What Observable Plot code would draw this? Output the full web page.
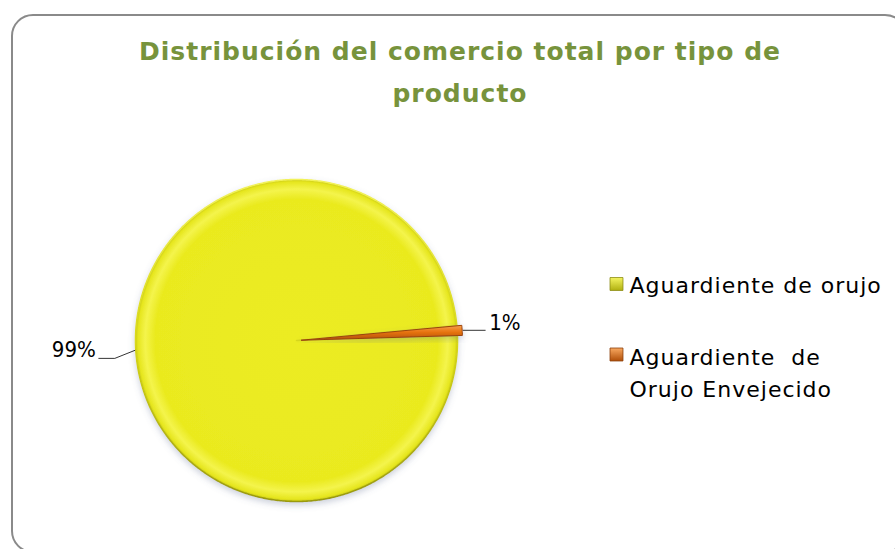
<!DOCTYPE html>
<html><head><meta charset="utf-8">
<script src="https://cdn.jsdelivr.net/npm/d3@7"></script>
<script src="https://cdn.jsdelivr.net/npm/@observablehq/plot@0.6"></script>
<style>
html,body{margin:0;padding:0;background:#fff;}
#wrap{position:relative;width:895px;height:549px;overflow:hidden;background:#fff;}
#frame{position:absolute;left:11px;top:14px;width:896px;height:539px;border:2px solid #8a8a8a;border-radius:22px;box-sizing:border-box;pointer-events:none;}
#title{position:absolute;left:11px;top:31px;width:898px;text-align:center;font-family:"DejaVu Sans",sans-serif;font-weight:bold;font-size:25px;letter-spacing:1px;line-height:42px;color:#77933C;margin:0;}
#chart{position:absolute;left:0;top:120px;}
</style>
</head><body>
<div id="wrap">
  <div id="title">Distribución del comercio total por tipo de<br>producto</div>
  <div id="chart"></div>
  <div id="frame"></div>
</div>
<script>
// ---- data ----
const categories = ["Aguardiente de orujo", "Aguardiente  de\nOrujo Envejecido"];
const shares = [99, 1];
const pctLabels = ["99%", "1%"];
const colors = ["#EBEB22", "#E46C0A"];

// ---- layout ----
const W = 895, H = 429, TOP = 120;
const cx = 296, cy = 340, R = 161;
const startDeg = 88.3;
const explode = [0, 5];
const FONT_LBL = '"DejaVu Sans Condensed","DejaVu Sans",sans-serif';
const FONT_LEG = '"DejaVu Sans",sans-serif';

const arcs = d3.pie().sort(null)
  .startAngle(startDeg * Math.PI / 180)
  .endAngle(startDeg * Math.PI / 180 + 2 * Math.PI)(shares);

// slice outlines from pie angles
const slices = arcs.map((a, i) => {
  const m = (a.startAngle + a.endAngle) / 2;
  const ox = explode[i] * Math.sin(m), oy = -explode[i] * Math.cos(m);
  const pts = [{x: cx + ox, y: cy + oy}];
  const n = Math.max(4, Math.ceil((a.endAngle - a.startAngle) / (Math.PI / 360)));
  for (let k = 0; k <= n; k++) {
    const t = a.startAngle + (a.endAngle - a.startAngle) * k / n;
    pts.push({x: cx + ox + R * Math.sin(t), y: cy + oy - R * Math.cos(t)});
  }
  pts.push({x: cx + ox, y: cy + oy});
  return pts;
});

// leader lines + label anchors
const leaders = arcs.map((a, i) => {
  const m = (a.startAngle + a.endAngle) / 2;
  const r = R + explode[i] + 1;
  const p0 = {x: cx + r * Math.sin(m), y: cy - r * Math.cos(m)};
  if (Math.sin(m) > 0) {
    return [p0, {x: p0.x + 22, y: p0.y}];
  } else {
    const p1 = {x: p0.x - 20, y: p0.y + 8};
    return [p0, p1, {x: p1.x - 16, y: p1.y}];
  }
});
const labelRows = leaders.map((pts, i) => {
  const end = pts[pts.length - 1];
  const right = end.x > cx;
  return {x: right ? end.x + 4 : end.x - 3, y: right ? end.y - 7 : end.y - 8, text: pctLabels[i], right};
});

const legendRows = categories.map((c, i) => ({
  name: c,
  sx: 616, sy: i === 0 ? 283.5 : 354,
  tx: 629, ty: i === 0 ? 282 : 370,
  color: colors[i]
}));

const defs = () => {
  const d = d3.create("svg:defs");
  const rg = d.append("radialGradient").attr("id", "gY").attr("gradientUnits", "userSpaceOnUse")
    .attr("cx", cx).attr("cy", cy - TOP).attr("r", R);
  [[0, "#ECEC24"], [0.88, "#EAEA1F"], [0.94, "#F4F44C"], [0.985, "#E6E61E"], [1, "#C9C916"]]
    .forEach(([o, c]) => rg.append("stop").attr("offset", o).attr("stop-color", c));
  const sg = d.append("linearGradient").attr("id", "gYs").attr("x1", 0).attr("y1", 0).attr("x2", 0).attr("y2", 1);
  [[0, "#F2F25A"], [0.5, "#D8D81A"], [1, "#9A9A10"]]
    .forEach(([o, c]) => sg.append("stop").attr("offset", o).attr("stop-color", c));
  const og = d.append("linearGradient").attr("id", "gO").attr("x1", 0).attr("y1", 0).attr("x2", 0).attr("y2", 1);
  [[0, "#F7A050"], [0.45, "#E8740F"], [1, "#B0500A"]]
    .forEach(([o, c]) => og.append("stop").attr("offset", o).attr("stop-color", c));
  const f = d.append("filter").attr("id", "sh").attr("x", "-10%").attr("y", "-10%").attr("width", "120%").attr("height", "125%");
  f.append("feDropShadow").attr("dx", 0).attr("dy", 3).attr("stdDeviation", 3)
    .attr("flood-color", "#5a6a90").attr("flood-opacity", 0.3);
  const lg = d.append("linearGradient").attr("id", "lY").attr("x1", 0).attr("y1", 0).attr("x2", 0).attr("y2", 1);
  [[0, "#F4F460"], [1, "#B0B010"]].forEach(([o, c]) => lg.append("stop").attr("offset", o).attr("stop-color", c));
  const lo = d.append("linearGradient").attr("id", "lO").attr("x1", 0).attr("y1", 0).attr("x2", 0).attr("y2", 1);
  [[0, "#F8A860"], [1, "#B04E08"]].forEach(([o, c]) => lo.append("stop").attr("offset", o).attr("stop-color", c));
  return d.node();
};

const plot = Plot.plot({
  width: W, height: H,
  margin: 0,
  x: {type: "linear", domain: [0, W], range: [0, W], axis: null},
  y: {type: "linear", domain: [TOP, TOP + H], range: [0, H], axis: null},
  style: {background: "transparent", overflow: "visible"},
  marks: [
    defs,
    Plot.line(slices[0], {x: "x", y: "y", fill: "url(#gY)", stroke: "url(#gYs)", strokeWidth: 1.6, curve: "linear"}),
    Plot.line(slices[1], {x: "x", y: "y", fill: "url(#gO)", stroke: "#9A4406", strokeWidth: 1, curve: "linear"}),
    ...leaders.map(pts => Plot.line(pts, {x: "x", y: "y", stroke: "#000", strokeWidth: 0.8})),
    Plot.text(labelRows.filter(d => d.right), {x: "x", y: "y", text: "text", textAnchor: "start", fontSize: 22, fontFamily: FONT_LBL, fill: "#000", lineAnchor: "middle"}),
    Plot.text(labelRows.filter(d => !d.right), {x: "x", y: "y", text: "text", textAnchor: "end", fontSize: 22, fontFamily: FONT_LBL, fill: "#000", lineAnchor: "middle"}),
    Plot.dot(legendRows, {x: "sx", y: "sy", symbol: "square", r: 7.3, fill: (d, i) => i === 0 ? "url(#lY)" : "url(#lO)", stroke: (d, i) => i === 0 ? "#8C8C10" : "#8A3C06", strokeWidth: 0.8}),
    Plot.text(legendRows, {x: "tx", y: "ty", text: "name", textAnchor: "start", fontSize: 22, fontFamily: FONT_LEG, fill: "#000", lineAnchor: "middle", lineHeight: 1.45})
  ]
});
d3.select(plot).selectAll('g[aria-label="line"]').filter((d, i) => i < 2).attr("filter", "url(#sh)");
d3.select(plot).selectAll('g[aria-label="text"]').filter((d, i) => i === 2).attr("letter-spacing", "1px");
document.getElementById("chart").appendChild(plot);
</script>
</body></html>
